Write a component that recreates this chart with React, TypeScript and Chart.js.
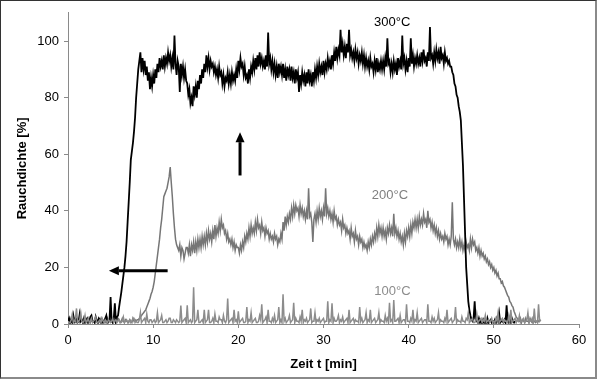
import { useEffect, useRef } from "react";
import { Chart, registerables } from "chart.js";

Chart.register(...registerables);

// Rauchdichte [%], sampled from t = 0 with the step given per series
const STEP_300 = 0.125;
const STEP_200 = 0.125;
const STEP_100 = 0.125;

const S300 = [
  1, 2, 0.5, 1.5, 0.5, 3, 1, 2,
  2, 0.5, 1, 3.5, 1, 1.5, 0.5, 2,
  0.5, 1.5, 2, 0.5, 1, 2.5, 3, 1,
  1, 0.5, 2.5, 1, 0.5, 2, 1.5, 0.5,
  1.5, 0.5, 1, 2, 3, 0.5, 1, 1.5,
  9.5, 1, 0.5, 2, 7.3, 1, 2.5, 3,
  6, 8.5, 11, 14, 17, 20, 24, 29,
  36, 43, 50, 58, 61, 64, 68, 73,
  80, 85, 90, 93, 96, 89, 94, 90,
  93, 88, 91, 86, 89, 83, 87, 84,
  88, 85, 90, 87, 92, 89, 94, 91,
  93, 90, 95, 91, 94, 92, 96, 93,
  95, 91, 94, 90, 102, 92, 88, 93,
  91, 82, 92, 88, 91, 87, 90, 86,
  85, 81, 83, 78, 80, 77, 84, 81,
  84, 80, 86, 83, 88, 85, 90, 87,
  92, 89, 95, 91, 94, 90, 93, 91,
  92, 89, 91, 88, 90, 87, 91, 88,
  89, 85, 88, 84, 87, 86, 89, 85,
  88, 85, 89, 86, 88, 86, 90, 87,
  93, 90, 94, 91, 92, 88, 91, 87,
  88, 85, 90, 87, 91, 89, 93, 90,
  94, 90, 95, 91, 96, 92, 94, 91,
  93, 90, 95, 91, 103, 92, 94, 90,
  93, 89, 92, 88, 91, 87, 92, 89,
  91, 88, 92, 87, 90, 86, 91, 88,
  90, 86, 91, 87, 89, 85, 90, 87,
  89, 82, 88, 85, 89, 86, 88, 84,
  89, 85, 90, 86, 88, 84, 89, 86,
  90, 87, 91, 88, 92, 89, 91, 88,
  93, 89, 92, 90, 94, 91, 93, 90,
  95, 92, 96, 93, 98, 94, 97, 95,
  104, 96, 99, 95, 98, 94, 99, 96,
  104, 95, 97, 94, 96, 93, 97, 94,
  96, 92, 95, 93, 96, 92, 95, 91,
  94, 91, 93, 90, 94, 91, 92, 89,
  93, 90, 94, 89, 92, 90, 93, 90,
  93, 90, 94, 91, 101, 92, 93, 89,
  92, 89, 93, 90, 92, 88, 94, 91,
  93, 90, 102, 92, 94, 90, 93, 89,
  94, 91, 101, 92, 95, 91, 94, 92,
  95, 92, 94, 91, 96, 93, 97, 93,
  94, 91, 96, 93, 105, 94, 95, 92,
  96, 93, 97, 94, 96, 92, 98, 94,
  95, 92, 96, 93, 94, 92, 93, 91,
  91, 89, 88, 85, 84, 81, 80, 77,
  75, 72, 64, 56, 44, 32, 20, 14,
  8, 5, 3, 1.5, 1, 2, 8, 1,
  1, 0.5, 2, 0.5, 1, 0, 1.5, 0.5,
  1, 0, 2, 0.5, 1, 1.5, 0.5, 1,
  0.5, 1.5, 0.5, 2, 1, 3.8, 0.5, 1,
  1, 0.5, 1.5, 0.5, 6.6, 1, 0.5, 1.5,
  0.5, 2, 1, 0.5, 1,
];

const S200 = [
  1, 0.5, 2, 1, 0.5, 1.5, 1, 0.5,
  0.5, 1.5, 1, 0.5, 2, 1, 0.5, 1.5,
  2, 1, 0.5, 1.5, 1, 0.5, 2, 1,
  1, 0.5, 2, 1, 1.5, 0.5, 1, 2,
  0.5, 1, 1.5, 0.5, 1, 2, 0.5, 1,
  1, 2, 0.5, 1, 1.5, 0.5, 1, 2,
  1.5, 0.5, 1, 2, 1, 0.5, 1.5, 1,
  1, 0.5, 1.5, 1, 0.5, 2, 1, 1.5,
  1, 1.5, 1.5, 2, 2.5, 3, 3.5, 4,
  4.5, 5, 6, 7, 8, 9, 10.5, 11.5,
  13, 15, 18, 21, 24, 27, 30, 34,
  37, 41, 45, 46, 47, 48, 50, 52,
  55.5, 50, 45, 39, 34, 30, 28, 27,
  26, 28, 24, 27, 26, 23, 25, 27,
  27, 25, 28, 24, 28, 26, 29, 25,
  29, 26, 30, 27, 30, 27, 31, 28,
  31, 28, 32, 29, 33, 30, 32, 29,
  33, 30, 35, 31, 34, 32, 36, 33,
  37, 34, 35, 32, 33, 30, 32, 29,
  30, 28, 30, 27, 29, 26, 28, 27,
  27, 25, 28, 26, 29, 27, 31, 29,
  32, 30, 34, 31, 35, 32, 34, 32,
  36, 33, 37, 34, 35, 32, 36, 33,
  34, 31, 34, 32, 33, 30, 32, 30,
  31, 29, 32, 30, 31, 28, 30, 29,
  32, 30, 36, 33, 38, 35, 38, 36,
  39, 37, 41, 38, 42, 39, 42, 40,
  41, 38, 42, 39, 41, 38, 40, 37,
  40, 37, 48, 38, 39, 36, 29, 37,
  39, 36, 40, 37, 41, 38, 40, 37,
  41, 38, 48, 39, 41, 38, 40, 37,
  39, 36, 40, 37, 38, 35, 37, 35,
  36, 33, 37, 34, 35, 32, 34, 32,
  33, 30, 34, 31, 32, 29, 33, 30,
  31, 28, 31, 29, 30, 27, 29, 27,
  28, 26, 29, 27, 30, 28, 31, 29,
  32, 30, 34, 31, 35, 32, 34, 31,
  34, 31, 33, 30, 34, 32, 35, 32,
  34, 31, 39, 32, 34, 31, 33, 30,
  32, 29, 31, 28, 32, 29, 33, 31,
  34, 31, 35, 32, 36, 34, 37, 34,
  37, 34, 38, 35, 37, 35, 39, 36,
  37, 34, 40, 36, 37, 34, 36, 33,
  35, 32, 34, 31, 33, 30, 32, 30,
  31, 29, 32, 30, 31, 28, 30, 28,
  31, 43, 30, 28, 30, 27, 29, 27,
  30, 27, 29, 26, 28, 26, 29, 27,
  28, 26, 30, 27, 30, 28, 29, 26,
  27, 25, 27, 24, 26, 24, 25, 23,
  24, 22, 23, 21, 22, 20, 21, 19,
  20, 18, 19, 17, 18, 16, 16, 14.5,
  15, 13.5, 13, 12, 11, 10, 9.5, 8,
  7.5, 6.5, 6, 4.5, 3.5, 2.5, 2, 1,
  1, 2, 0.5, 1.5, 1, 0.5, 2, 1,
  1, 0.5, 2, 1, 0.5, 1.5, 1, 0.5,
  1, 0.5, 1, 1.5, 1,
];

const S100 = [
  1, 0.5, 0.5, 1.5, 3.5, 0.5, 1, 2,
  5.5, 0.5, 1, 1.5, 4, 1, 0.5, 1,
  3, 0.5, 1, 2, 0.5, 1, 2, 0.5,
  1, 1.5, 2.5, 0.5, 0.5, 1, 1.5, 0.5,
  2, 1, 0.5, 1.5, 1, 0.5, 1.5, 1,
  0.5, 1, 2, 0.5, 1, 1.5, 0.5, 1,
  1.5, 0.5, 0.5, 1, 2.5, 0.5, 1, 1.5,
  0.5, 1, 1.5, 0.5, 1, 2, 2, 0.5,
  1, 0.5, 0.5, 1.5, 4, 0.5, 1, 1.5,
  2, 0.5, 3.5, 1, 0.5, 1.5, 1.5, 0.5,
  1, 1.5, 0.5, 1, 4, 0.5, 1, 1.5,
  3, 0.5, 0.5, 1, 1.5, 0.5, 1, 2,
  2, 0.5, 0.5, 1.5, 1, 0.5, 1.5, 1,
  0.5, 1, 6.5, 0.5, 1, 1.5, 2, 0.5,
  6.6, 0.5, 1, 1.5, 0.5, 1, 13, 0.5,
  1, 1.5, 5, 0.5, 0.5, 1, 1.5, 0.5,
  5, 0.5, 1, 1.5, 5, 0.5, 0.5, 1,
  2, 0.5, 3.5, 1, 1, 0.5, 2.5, 1.5,
  1.5, 0.5, 3, 1, 0.5, 1.5, 9, 0.5,
  1, 1.5, 2, 0.5, 5, 1, 1.5, 0.5,
  4.5, 0.5, 1, 1.5, 2, 0.5, 0.5, 1,
  6, 0.5, 1.5, 1, 4, 0.5, 1, 1.5,
  2, 0.5, 0.5, 1, 3, 1.5, 7, 0.5,
  1, 1.5, 2.5, 0.5, 5, 1, 1, 0.5,
  2, 1, 3, 0.5, 1, 1.5, 6, 0.5,
  1.5, 0.5, 10.5, 1, 2, 0.5, 1, 1.5,
  3, 0.5, 1, 1.5, 7.5, 0.5, 2, 1,
  1, 0.5, 2.5, 1, 5, 0.5, 1.5, 1,
  2, 0.5, 1, 1.5, 5.5, 0.5, 1, 1,
  4, 0.5, 1.5, 1, 2, 0.5, 1, 1.5,
  2, 0.5, 1, 1, 8, 0.5, 1.5, 1,
  7.3, 0.5, 2, 1, 1, 1.5, 3, 0.5,
  1.5, 1, 2.5, 0.5, 1, 1.5, 2, 0.5,
  5, 0.5, 1, 1.5, 2, 0.5, 1.5, 1,
  1, 0.5, 6, 1, 2, 0.5, 1, 1.5,
  4, 0.5, 1.5, 1, 5, 0.5, 1, 1.5,
  2, 0.5, 1, 1.5, 4, 0.5, 1.5, 1,
  1, 0.5, 3, 1, 2, 0.5, 7.5, 1,
  1.5, 0.5, 8.5, 1, 1, 1.5, 2, 0.5,
  3, 0.5, 1, 1.5, 1.5, 0.5, 7, 1,
  1, 0.5, 2, 1, 5, 0.5, 1.5, 1,
  4, 0.5, 1, 1.5, 2, 0.5, 1, 1.5,
  1.5, 0.5, 7, 1, 1, 0.5, 2.5, 1,
  2, 0.5, 1, 1.5, 4, 0.5, 1.5, 1,
  1, 0.5, 2, 1, 5, 0.5, 1, 1.5,
  2, 0.5, 1, 1.5, 6, 0.5, 1.5, 1,
  1, 0.5, 2.5, 1, 1, 0.5, 2, 1.5,
  4, 0.5, 1, 1.5, 2, 0.5, 0.5, 1,
  3.5, 0.5, 1, 1.5, 2, 0.5, 1.5, 1,
  3, 0.5, 1, 1.5, 0.5, 1, 2, 0.5,
  1, 0.5, 2, 1, 4, 0.5, 1, 1.5,
  2, 0.5, 1.5, 1, 1, 0.5, 3, 1,
  5, 0.5, 1, 1.5, 2, 0.5, 1.5, 1,
  3, 0.5, 1, 1.5, 2, 0.5, 1, 1.5,
  4, 0.5, 1.5, 1, 2, 0.5, 5.5, 1,
  1, 0.5, 7, 1, 1.5,
];

const X_TICKS = [0, 10, 20, 30, 40, 50, 60];
const Y_TICKS = [0, 20, 40, 60, 80, 100];

const SERIES_NAMES = ["300°C", "200°C", "100°C"];
// label anchor positions in data units [min, %]
const LABEL_POS: [number, number][] = [
  [38.06, 106.6],
  [37.8, 45.5],
  [38.1, 11.6],
];
const LABEL_COLORS = ["#000000", "#7f7f7f", "#8c8c8c"];

// arrows in data units: [x0, y0, x1, y1] (tail -> tip)
const ARROWS: [number, number, number, number][] = [
  [11.7, 18.8, 4.8, 18.8],
  [20.2, 52.5, 20.2, 67.8],
];

const toPoints = (arr: number[], step: number) =>
  arr.map((v, i) => ({ x: i * step, y: v }));

const FONT = 'Arial, "Liberation Sans", sans-serif';
const AXIS_GRAY = "#8a8a8a";

const overlayPlugin = {
  id: "overlay",
  afterDatasetsDraw(chart: any) {
    const { ctx, scales } = chart;
    const xs = scales.x;
    const ys = scales.y;
    ctx.save();
    ctx.fillStyle = "#000";
    ctx.strokeStyle = "#000";
    for (const [x0, y0, x1, y1] of ARROWS) {
      const px0 = xs.getPixelForValue(x0);
      const py0 = ys.getPixelForValue(y0);
      const px1 = xs.getPixelForValue(x1);
      const py1 = ys.getPixelForValue(y1);
      const ang = Math.atan2(py1 - py0, px1 - px0);
      const headLen = 10;
      const headHalf = 4.5;
      const bx = px1 - headLen * Math.cos(ang);
      const by = py1 - headLen * Math.sin(ang);
      ctx.lineWidth = 3;
      ctx.beginPath();
      ctx.moveTo(px0, py0);
      ctx.lineTo(bx, by);
      ctx.stroke();
      ctx.beginPath();
      ctx.moveTo(px1, py1);
      ctx.lineTo(bx + headHalf * Math.sin(ang), by - headHalf * Math.cos(ang));
      ctx.lineTo(bx - headHalf * Math.sin(ang), by + headHalf * Math.cos(ang));
      ctx.closePath();
      ctx.fill();
    }
    ctx.font = `13px ${FONT}`;
    ctx.textAlign = "center";
    ctx.textBaseline = "middle";
    SERIES_NAMES.forEach((name, i) => {
      const [lx, ly] = LABEL_POS[i];
      ctx.fillStyle = LABEL_COLORS[i];
      ctx.fillText(name, xs.getPixelForValue(lx), ys.getPixelForValue(ly));
    });
    ctx.restore();
  },
};

export default function App() {
  const ref = useRef<HTMLCanvasElement>(null);

  useEffect(() => {
    document.body.style.margin = "0";
    const canvas = ref.current;
    if (!canvas) return;
    const chart = new Chart(canvas, {
      type: "line",
      data: {
        datasets: [
          {
            label: SERIES_NAMES[2],
            data: toPoints(S100, STEP_100),
            borderColor: "#8c8c8c",
            borderWidth: 1.5,
            pointRadius: 0,
            tension: 0,
          },
          {
            label: SERIES_NAMES[0],
            data: toPoints(S300, STEP_300),
            borderColor: "#000000",
            borderWidth: 1.8,
            pointRadius: 0,
            tension: 0,
          },
          {
            label: SERIES_NAMES[1],
            data: toPoints(S200, STEP_200),
            borderColor: "#767676",
            borderWidth: 1.5,
            pointRadius: 0,
            tension: 0,
          },
        ],
      },
      options: {
        responsive: false,
        animation: false,
        events: [],
        layout: { padding: { top: 12, right: 21, left: 0, bottom: 0 } },
        plugins: {
          legend: { display: false },
          tooltip: { enabled: false },
        },
        scales: {
          x: {
            type: "linear",
            min: 0,
            max: 60,
            afterBuildTicks: (s: any) => {
              s.ticks = X_TICKS.map((v) => ({ value: v }));
            },
            afterFit: (s: any) => {
              s.height = 56;
            },
            ticks: {
              color: "#000",
              font: { family: FONT, size: 13 },
              padding: 5,
              maxRotation: 0,
            },
            grid: {
              display: true,
              drawOnChartArea: false,
              drawTicks: true,
              tickLength: 4,
              color: AXIS_GRAY,
            },
            border: { display: true, color: AXIS_GRAY, width: 1 },
            title: {
              display: true,
              text: "Zeit t [min]",
              color: "#000",
              font: { family: FONT, size: 13, weight: "bold" },
              padding: { top: 0, bottom: 8 },
            },
          },
          y: {
            type: "linear",
            min: 0,
            max: 110,
            afterBuildTicks: (s: any) => {
              s.ticks = Y_TICKS.map((v) => ({ value: v }));
            },
            afterFit: (s: any) => {
              s.width = 68;
            },
            ticks: {
              color: "#000",
              font: { family: FONT, size: 13 },
              padding: 5,
            },
            grid: {
              display: true,
              drawOnChartArea: false,
              drawTicks: true,
              tickLength: 4,
              color: AXIS_GRAY,
            },
            border: { display: true, color: AXIS_GRAY, width: 1 },
            title: {
              display: true,
              text: "Rauchdichte [%]",
              color: "#000",
              font: { family: FONT, size: 13, weight: "bold" },
              padding: { top: 15, bottom: 0 },
            },
          },
        },
      },
      plugins: [overlayPlugin],
    } as any);
    return () => chart.destroy();
  }, []);

  return (
    <div style={{ position: "relative", width: 600, height: 380, background: "#fff" }}>
      <canvas ref={ref} width={600} height={380} style={{ display: "block" }} />
      <div
        style={{
          position: "absolute",
          left: 0,
          top: 0,
          width: 597,
          height: 379,
          boxSizing: "border-box",
          borderTop: "1px solid #333",
          borderLeft: "1px solid #333",
          borderRight: "2px solid #8a8a8a",
          borderBottom: "2px solid #8a8a8a",
          pointerEvents: "none",
        }}
      />
    </div>
  );
}
